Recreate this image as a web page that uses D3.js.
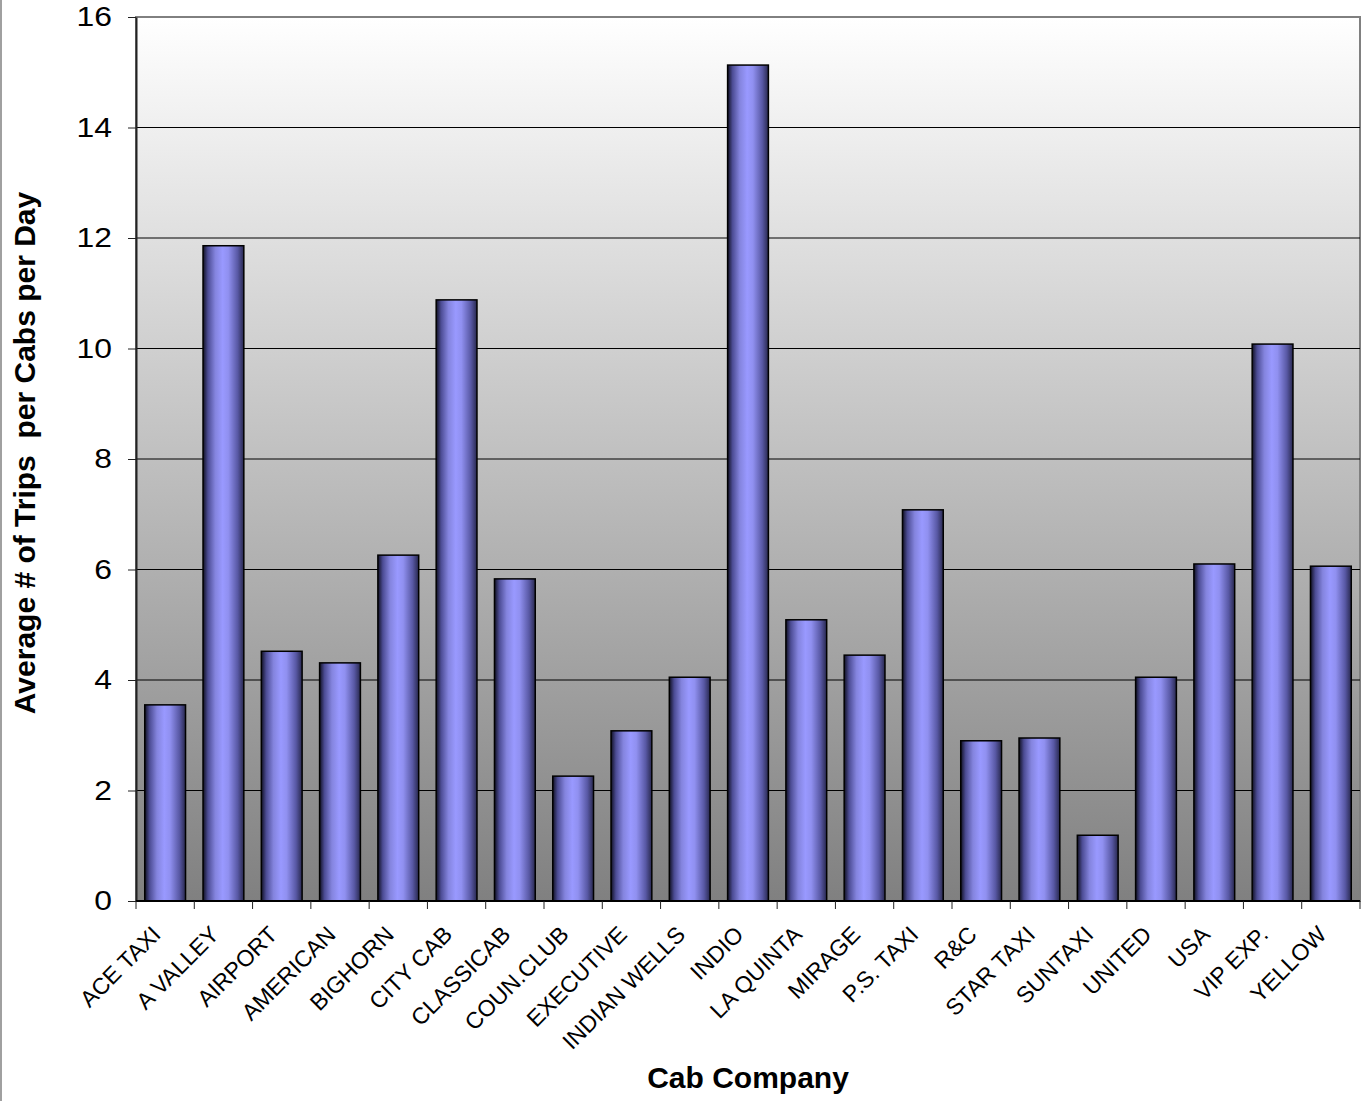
<!DOCTYPE html>
<html>
<head>
<meta charset="utf-8">
<script src="https://cdn.jsdelivr.net/npm/d3@7"></script>
<style>
  body { margin: 0; background: #fff; }
  svg { display: block; font-family: "Liberation Sans", Arial, sans-serif; }
</style>
</head>
<body>
<div id="chart"></div>
<script>
// Daten: durchschnittliche Fahrten pro Taxi und Tag
const companies = [
    "ACE TAXI", "A VALLEY", "AIRPORT", "AMERICAN", "BIGHORN", "CITY CAB",
    "CLASSICAB", "COUN.CLUB", "EXECUTIVE", "INDIAN WELLS", "INDIO", "LA QUINTA",
    "MIRAGE", "P.S. TAXI", "R&C", "STAR TAXI", "SUNTAXI", "UNITED", "USA",
    "VIP EXP.", "YELLOW"
];
const tripsPerCab = [
    3.55, 11.86, 4.52, 4.31, 6.26, 10.88,
    5.83, 2.26, 3.08, 4.05, 15.13, 5.09,
    4.45, 7.08, 2.90, 2.95, 1.19, 4.05, 6.10,
    10.08, 6.06
];
const yTicks = [0, 2, 4, 6, 8, 10, 12, 14, 16];
const xTitle = "Cab Company";
const yTitle = "Average # of Trips  per Cabs per Day";

const data = companies.map((name, i) => ({ name, value: tripsPerCab[i] }));

// Dimensionen
const svgWidth = 1365, svgHeight = 1101;
const margin = { top: 17, right: 5, bottom: 200, left: 136 };
const width = svgWidth - margin.left - margin.right;
const height = svgHeight - margin.top - margin.bottom;

const root = d3.select("#chart")
    .append("svg")
    .attr("width", svgWidth)
    .attr("height", svgHeight);

// Verläufe
const defs = root.append("defs");

const bg = defs.append("linearGradient")
    .attr("id", "bg-grad")
    .attr("x1", 0).attr("y1", 0).attr("x2", 0).attr("y2", 1);
bg.append("stop").attr("offset", "0%").attr("stop-color", "#ffffff");
bg.append("stop").attr("offset", "100%").attr("stop-color", "#808080");

const barGrad = defs.append("linearGradient")
    .attr("id", "bar-grad")
    .attr("x1", 0).attr("y1", 0).attr("x2", 1).attr("y2", 0);
[
    ["0%", "#101022"],
    ["12%", "#4c4c94"],
    ["30%", "#8484de"],
    ["48%", "#9999ff"],
    ["62%", "#9090f0"],
    ["85%", "#5858a4"],
    ["100%", "#28284e"]
].forEach(([o, c]) => barGrad.append("stop").attr("offset", o).attr("stop-color", c));

// äußerer Rahmen (nur links sichtbar)
root.append("line")
    .attr("x1", 1).attr("x2", 1)
    .attr("y1", 0).attr("y2", svgHeight)
    .attr("stroke", "#a0a0a0")
    .attr("stroke-width", 2);

const svg = root.append("g")
    .attr("transform", `translate(${margin.left},${margin.top})`);

// Skalen
const x = d3.scaleBand()
    .domain(companies)
    .range([0, width])
    .paddingInner(0.3)
    .paddingOuter(0.15);

const y = d3.scaleLinear()
    .domain([0, 16])
    .range([height, 0]);

// Plotfläche
svg.append("rect")
    .attr("width", width)
    .attr("height", height)
    .attr("fill", "url(#bg-grad)")
    .attr("stroke", "#808080")
    .attr("stroke-width", 2);

// Gitterlinien
svg.append("g")
    .selectAll("line")
    .data(yTicks.filter(t => t > 0 && t < 16))
    .join("line")
    .attr("x1", 0).attr("x2", width)
    .attr("y1", d => y(d)).attr("y2", d => y(d))
    .attr("stroke", "#000")
    .attr("stroke-width", 1);

// Balken
svg.append("g")
    .selectAll("rect")
    .data(data)
    .join("rect")
    .attr("x", d => x(d.name))
    .attr("y", d => y(d.value))
    .attr("width", x.bandwidth())
    .attr("height", d => height - y(d.value))
    .attr("fill", "url(#bar-grad)")
    .attr("stroke", "#000")
    .attr("stroke-width", 1.5);

// Y-Achse (Beschriftung leicht in die Breite gezogen wie im Original)
const stretch = 1.18;
const yAxis = svg.append("g")
    .call(d3.axisLeft(y).tickValues(yTicks).tickSize(8).tickPadding(16).tickSizeOuter(0));
yAxis.select(".domain").attr("stroke", "#222").attr("stroke-width", 2);
yAxis.selectAll(".tick line").attr("stroke", "#222");
yAxis.selectAll(".tick text")
    .attr("font-size", 27)
    .attr("fill", "#000")
    .attr("x", -24 / stretch)
    .attr("transform", `scale(${stretch},1)`)
    .style("font-family", "'Liberation Sans', Arial, sans-serif");

// X-Achse: Ticks an den Kategoriegrenzen
const bounds = d3.range(companies.length + 1).map(i => i * x.step());
const xAxisG = svg.append("g")
    .attr("transform", `translate(0,${height})`);
xAxisG.append("line")
    .attr("x1", 0).attr("x2", width)
    .attr("stroke", "#000").attr("stroke-width", 2);
xAxisG.selectAll(".bound")
    .data(bounds)
    .join("line")
    .attr("class", "bound")
    .attr("x1", d => d).attr("x2", d => d)
    .attr("y1", 0).attr("y2", 8)
    .attr("stroke", "#222");

xAxisG.selectAll(".xlabel")
    .data(companies)
    .join("text")
    .attr("class", "xlabel")
    .attr("transform", d => `translate(${x(d) + x.bandwidth() / 2 - 3},${35}) rotate(-45)`)
    .attr("text-anchor", "end")
    .attr("font-size", 23)
    .attr("fill", "#000")
    .text(d => d);

// Achsentitel
root.append("text")
    .attr("x", margin.left + width / 2)
    .attr("y", 1088)
    .attr("text-anchor", "middle")
    .attr("font-size", 30)
    .attr("font-weight", "bold")
    .text(xTitle);

root.append("text")
    .attr("transform", `translate(35,${margin.top + height / 2 - 6}) rotate(-90)`)
    .attr("text-anchor", "middle")
    .attr("font-size", 30)
    .attr("font-weight", "bold")
    .style("white-space", "pre")
    .text(yTitle);
</script>
</body>
</html>
